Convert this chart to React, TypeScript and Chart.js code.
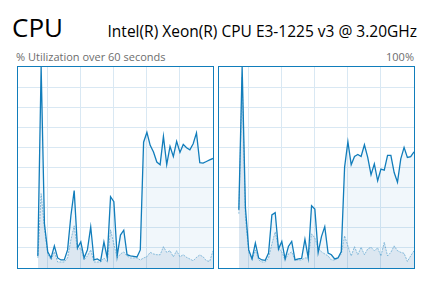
import React, { useEffect, useRef } from "react";
import { Chart, registerables } from "chart.js";

Chart.register(...registerables);

// seconds (x positions) of the samples; window spans 0..59
const seconds = [
  6, 7, 8, 9, 10, 11, 12, 13, 14, 15, 16, 17, 18, 19, 20, 21, 22, 23, 24, 25,
  26, 27, 28, 29, 30, 31, 32, 33, 34, 35, 36, 37, 38, 39, 40, 41, 42, 43, 44, 45,
  46, 47, 48, 49, 50, 51, 52, 53, 54, 55, 56, 57, 58, 59,
];

const leftTotal = [
  6, 100, 22, 8, 5, 11, 5, 4, 4, 9, 26, 38.5, 10, 13, 5, 9, 20.5, 4, 4.5, 3.5,
  13, 5, 35.5, 33, 6, 16.4, 18.8, 6.6, 6, 5.8, 5.5, 9, 62.6, 67.5, 61, 57.7, 52.7, 51.4, 65.5, 51.4,
  60.5, 55.5, 63, 57.5, 61.5, 59.8, 58.8, 61.8, 67.2, 52.4, 52.2, 53, 53.8, 54.5,
];
const leftKernel = [
  5, 37, 20, 7, 4, 8, 3, 3, 3, 5, 14, 21, 9, 10, 4, 6, 9, 3, 3, 3,
  5, 3, 19, 12, 5, 7, 8, 6, 5, 5, 5, 4, 5, 5.6, 7.8, 7, 6.6, 6.6, 10.6, 7.8,
  8.6, 5.6, 8.6, 5.6, 6.6, 5.3, 4.5, 3.6, 5.3, 6.5, 5.6, 3.6, 3.3, 8.6,
];
const rightTotal = [
  29, 100, 30, 9, 4.5, 12.4, 5, 4, 3.8, 7.4, 26.4, 27.5, 9.4, 13.2, 4.5, 10.7, 13.2, 4, 4.5, 4.8,
  14.3, 5, 31, 29.3, 7.7, 15.6, 20.6, 7.4, 6.6, 4.5, 5, 8.2, 50.2, 62.8, 51.4, 55.5, 56.5, 55.5, 61.3, 55,
  46.4, 51.8, 43.4, 49.2, 48.7, 56, 56, 47.5, 42.7, 54.3, 60, 55, 55.4, 57.8,
];
const rightKernel = [
  27, 95, 25, 8, 4, 9, 4, 3, 3, 5, 12, 18, 10, 8, 4, 7, 8, 4, 4, 4,
  5, 5, 17, 15, 10, 8, 7, 6, 4, 4, 5, 7, 16, 11, 6, 10.6, 6.6, 10.3, 6.6, 9.5,
  10.3, 8.6, 10, 6, 12.8, 6, 7.8, 11, 8.6, 7.8, 7.3, 3.3, 6, 8.6,
];

const xGridLines = [9, 19, 29, 39, 49];
const yGridLines = [10, 20, 30, 40, 50, 60, 70, 80, 90];

const BLUE = "rgb(17,125,187)";

function CpuPanel({ total, kernel, left }: { total: number[]; kernel: number[]; left: number }) {
  const ref = useRef<HTMLCanvasElement>(null);
  useEffect(() => {
    if (!ref.current) return;
    const chart = new Chart(ref.current, {
      type: "line",
      data: {
        datasets: [
          {
            label: "Total",
            data: total.map((v, i) => ({ x: seconds[i], y: v })),
            borderColor: BLUE,
            borderWidth: 1.3,
            backgroundColor: "rgba(17,125,187,0.06)",
            fill: "origin",
            pointRadius: 0,
            tension: 0,
          },
          {
            label: "Kernel",
            data: kernel.map((v, i) => ({ x: seconds[i], y: v })),
            borderColor: "rgba(17,125,187,0.45)",
            borderWidth: 1,
            borderDash: [2, 1],
            backgroundColor: "rgba(40,90,150,0.1)",
            fill: "origin",
            pointRadius: 0,
            tension: 0,
          },
        ],
      },
      options: {
        responsive: false,
        maintainAspectRatio: false,
        animation: false,
        layout: { padding: 0, autoPadding: false },
        plugins: { legend: { display: false }, tooltip: { enabled: false } },
        scales: {
          x: {
            type: "linear",
            min: 0,
            max: 59,
            ticks: { display: false },
            grid: { color: "#d9e8f3", drawTicks: false, lineWidth: 1 },
            border: { display: false },
            afterBuildTicks: (s: any) => {
              s.ticks = xGridLines.map((v) => ({ value: v }));
            },
          },
          y: {
            type: "linear",
            min: 0,
            max: 100,
            ticks: { display: false },
            grid: { color: "#d9e8f3", drawTicks: false, lineWidth: 1 },
            border: { display: false },
            afterBuildTicks: (s: any) => {
              s.ticks = yGridLines.map((v) => ({ value: v }));
            },
          },
        },
      },
    });
    return () => chart.destroy();
  }, [total, kernel]);
  return (
    <div
      style={{
        position: "absolute",
        left,
        top: 66,
        border: `1px solid ${BLUE}`,
        width: 195,
        height: 201,
        background: "#fff",
      }}
    >
      <canvas ref={ref} width={195} height={201} style={{ display: "block", width: 195, height: 201 }} />
    </div>
  );
}

export default function App() {
  const font = '"Segoe UI", "Open Sans", sans-serif';
  return (
    <div
      style={{
        position: "absolute",
        left: 0,
        top: 0,
        width: 430,
        height: 284,
        background: "#fff",
        fontFamily: font,
        overflow: "hidden",
      }}
    >
      <div style={{ position: "absolute", left: 12, top: 14, fontSize: 26, lineHeight: "26px", fontWeight: 400, color: "#000" }}>
        CPU
      </div>
      <div style={{ position: "absolute", right: 13, top: 24, fontSize: 15.5, lineHeight: "15.5px", color: "#000", whiteSpace: "nowrap" }}>
        Intel(R) Xeon(R) CPU E3-1225 v3 @ 3.20GHz
      </div>
      <div style={{ position: "absolute", left: 16, top: 51, fontSize: 11, lineHeight: "11px", color: "#6d6d6d", whiteSpace: "nowrap" }}>
        % Utilization over 60 seconds
      </div>
      <div style={{ position: "absolute", right: 16, top: 51, fontSize: 11, lineHeight: "11px", color: "#6d6d6d", whiteSpace: "nowrap" }}>
        100%
      </div>
      <CpuPanel total={leftTotal} kernel={leftKernel} left={17} />
      <CpuPanel total={rightTotal} kernel={rightKernel} left={218} />
    </div>
  );
}
